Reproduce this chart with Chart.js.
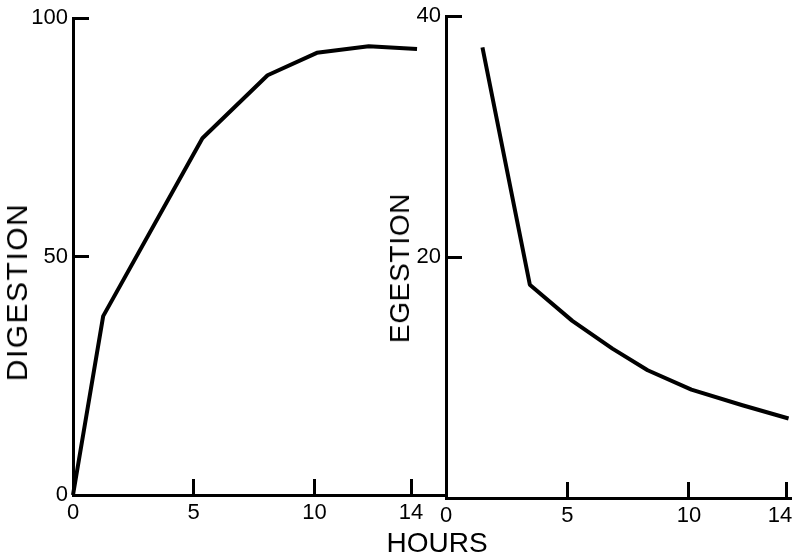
<!DOCTYPE html>
<html>
<head>
<meta charset="utf-8">
<script src="https://cdn.jsdelivr.net/npm/chart.js@4/dist/chart.umd.min.js"></script>
<style>
  html, body { margin:0; padding:0; background:#fff; overflow:hidden; }
  #wrap { position:relative; width:796px; height:558px; }
  canvas { position:absolute; left:0; top:0; }
  .lbl { position:absolute; font-family:"Liberation Sans", Arial, sans-serif; color:#000;
         white-space:nowrap; line-height:1; transform:translate(-50%,-50%); }
  .rot { transform:translate(-50%,-50%) rotate(-90deg); }
</style>
</head>
<body>
<div id="wrap">
  <canvas id="left" width="796" height="558"></canvas>
  <canvas id="right" width="796" height="558"></canvas>
  <div class="lbl rot" style="left:17px; top:292px; font-size:30px; letter-spacing:1.5px;">DIGESTION</div>
  <div class="lbl rot" style="left:400px; top:268px; font-size:28px; letter-spacing:0.7px;">EGESTION</div>
  <div class="lbl" style="left:437px; top:543px; font-size:28px;">HOURS</div>
</div>
<script>
// ---- data ----
const hoursDigestion = [0, 1.25, 5.36, 8.06, 10.1, 12.25, 14.25];
const digestion      = [0, 37.5, 74.8, 88.0, 92.7, 94.1, 93.5];
const hoursEgestion  = [1.5, 3.45, 5.2, 6.85, 8.3, 10.1, 12.2, 14.1];
const egestion       = [37.4, 17.7, 14.7, 12.4, 10.6, 9.0, 7.7, 6.6];
const hourTicks      = [0, 5, 10, 14];
const digestionTicks = [0, 50, 100];
const egestionTicks  = [20, 40];

Chart.defaults.font.family = '"Liberation Sans", Arial, sans-serif';
Chart.defaults.color = '#000';

function toXY(xs, ys) { return xs.map((x, i) => ({ x: x, y: ys[i] })); }

function axisStyle(tickValues, fixedSize, isX, nudgeLast) {
  return {
    type: 'linear',
    afterBuildTicks: s => { s.ticks = tickValues.map(v => ({ value: v })); },
    afterFit: s => {
      if (isX) s.height = fixedSize; else s.width = fixedSize;
      s.paddingTop = 0; s.paddingBottom = 0; s.paddingLeft = 0; s.paddingRight = 0;
    },
    border: { display: true, color: '#000', width: 3 },
    grid: { display: true, drawOnChartArea: false, drawTicks: true,
            tickLength: -16, tickWidth: 3, tickColor: '#000', color: '#000' },
    ticks: { font: { size: 22 }, color: '#000', padding: 21, maxRotation: 0,
             autoSkip: false,
             callback: (v, i, arr) => (nudgeLast && i === arr.length - 1) ? String(v) + '  ' : String(v) }
  };
}

function makeChart(id, xs, ys, xMax, yMax, yTicks, padding, yWidth, xHeight, nudgeLast) {
  const xScale = axisStyle(hourTicks, xHeight, true, nudgeLast);
  xScale.min = 0; xScale.max = xMax; xScale.position = 'bottom';
  const yScale = axisStyle(yTicks, yWidth, false, false);
  yScale.min = 0; yScale.max = yMax; yScale.position = 'left';
  return new Chart(document.getElementById(id), {
    type: 'line',
    data: { datasets: [{
      data: toXY(xs, ys),
      borderColor: '#000', borderWidth: 4, pointRadius: 0,
      tension: 0, fill: false, clip: false, borderJoinStyle: 'round'
    }]},
    options: {
      responsive: false, animation: false, devicePixelRatio: 1,
      layout: { autoPadding: false, padding: padding },
      plugins: { legend: { display: false }, tooltip: { enabled: false } },
      scales: { x: xScale, y: yScale }
    }
  });
}

// Left panel: y-axis at x=73, baseline y=495, top (100) y=18, baseline continues to x=446
makeChart('left', hoursDigestion, digestion, 14 * 373 / 338, 100, digestionTicks,
          { left: 0, top: 18, right: 350, bottom: 0 }, 73, 63, false);
// Right panel: y-axis at x=446, baseline y=498, top (40) y=16
makeChart('right', hoursEgestion, egestion, 14.2, 40, egestionTicks,
          { left: 0, top: 16, right: 5, bottom: 0 }, 446, 60, true);
</script>
</body>
</html>
